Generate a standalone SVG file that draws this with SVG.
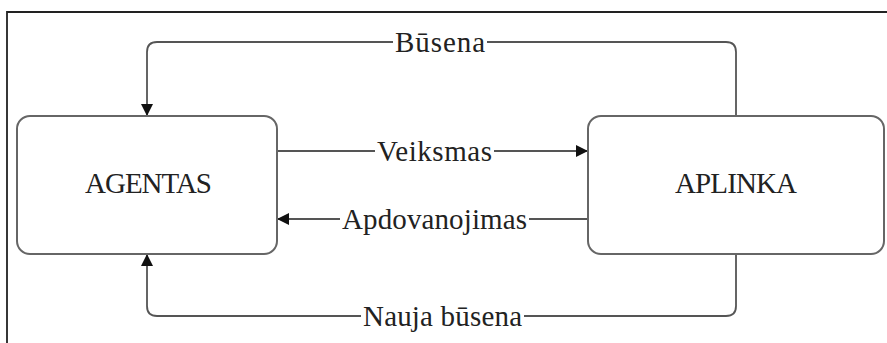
<svg xmlns="http://www.w3.org/2000/svg" width="887" height="343" viewBox="0 0 887 343">
<style>
.box{fill:#fff;stroke:#666;stroke-width:2}
.edge{fill:none;stroke:#555;stroke-width:1.8}
.frame{fill:none;stroke:#222;stroke-width:1.8}
.t{font-family:"Liberation Serif","DejaVu Serif",serif;font-size:29px;fill:#222}
</style>
<defs>
<marker id="arr" markerUnits="userSpaceOnUse" markerWidth="12" markerHeight="12" refX="12" refY="6" orient="auto">
<path d="M0,0 L12,6 L0,12 z" fill="#111"/>
</marker>
</defs>
<path class="frame" d="M7,343 V12 H887"/>
<g id="connectors">
<path class="edge" d="M736,116 V52 Q736,42 726,42 H487 M393,42 H157 Q147,42 147,52 V116" marker-end="url(#arr)"/>
<path class="edge" d="M277,151 H375 M494,151 H588" marker-end="url(#arr)"/>
<path class="edge" d="M588,219 H529 M340,219 H277" marker-end="url(#arr)"/>
<path class="edge" d="M736,254 V306 Q736,316 726,316 H524 M361,316 H157 Q147,316 147,306 V254" marker-end="url(#arr)"/>
<text class="t" x="440" y="52" text-anchor="middle" font-family="Liberation Serif, serif" textLength="90">Būsena</text>
<text class="t" x="434.5" y="161" text-anchor="middle" font-family="Liberation Serif, serif" textLength="115">Veiksmas</text>
<text class="t" x="434.5" y="229" text-anchor="middle" font-family="Liberation Serif, serif" textLength="185">Apdovanojimas</text>
<text class="t" x="442.5" y="326" text-anchor="middle" font-family="Liberation Serif, serif" textLength="159">Nauja būsena</text>
</g>
<g id="agentas">
<rect class="box" x="17" y="116" width="260" height="138" rx="13"/>
<text class="t" x="148.5" y="193" text-anchor="middle" font-family="Liberation Serif, serif" textLength="127">AGENTAS</text>
</g>
<g id="aplinka">
<rect class="box" x="588" y="116" width="296" height="138" rx="13"/>
<text class="t" x="736" y="193" text-anchor="middle" font-family="Liberation Serif, serif" textLength="122">APLINKA</text>
</g>
</svg>
